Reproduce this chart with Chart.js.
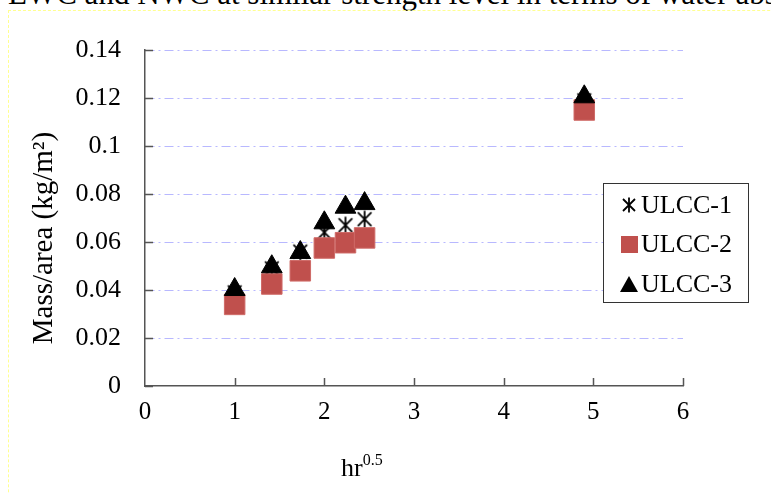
<!DOCTYPE html>
<html>
<head>
<meta charset="utf-8">
<script src="https://cdn.jsdelivr.net/npm/chart.js@4.4.0/dist/chart.umd.min.js"></script>
<style>
  body { margin: 0; background: #fff; overflow: hidden; }
  #wrap { position: relative; width: 771px; height: 494px; overflow: hidden; }
  #caption {
    position: absolute; left: 8px; top: -21px; white-space: nowrap;
    font-family: "Liberation Serif", serif; font-size: 31px; line-height: 30px; color: #000;
  }
  #frame {
    position: absolute; left: 8px; top: 10px; width: 900px; height: 700px;
    border: 1px dashed #ffff90;
  }
  canvas { position: absolute; left: 0; top: 0; }
</style>
</head>
<body>
<div id="wrap">
  <div id="caption">EWC and NWC at similar strength level in terms of water absorption</div>
  <div id="frame"></div>
  <canvas id="chart" width="771" height="494"></canvas>
</div>
<script>
// hr^0.5 values (sqrt of 1,2,3,4,5,6,24 hours)
const xValues = [1, 1.414, 1.732, 2, 2.236, 2.449, 4.899];
const ulcc1 = [0.039, 0.049, 0.056, 0.064, 0.067, 0.0695, 0.119];
const ulcc2 = [0.034, 0.0425, 0.048, 0.0575, 0.0597, 0.0617, 0.115];
const ulcc3 = [0.0402, 0.0497, 0.0556, 0.068, 0.0745, 0.076, 0.1205];
const seriesNames = ["ULCC-1", "ULCC-2", "ULCC-3"];
const yTicks = [0, 0.02, 0.04, 0.06, 0.08, 0.1, 0.12, 0.14];
const xTicks = [0, 1, 2, 3, 4, 5, 6];

const serif = "Liberation Serif";
const squareColor = "#c0504d";

// asterisk marker like the spreadsheet one: X with a vertical bar
function makeAsterisk(size) {
  const c = document.createElement("canvas");
  c.width = size; c.height = size;
  const g = c.getContext("2d");
  const m = size / 2, r = size / 2 - 1.5;
  g.strokeStyle = "#000";
  g.lineWidth = 1.8;
  g.beginPath();
  g.moveTo(m - r * 0.8, m - r * 0.8); g.lineTo(m + r * 0.8, m + r * 0.8);
  g.moveTo(m + r * 0.8, m - r * 0.8); g.lineTo(m - r * 0.8, m + r * 0.8);
  g.moveTo(m, m - r); g.lineTo(m, m + r);
  g.stroke();
  return c;
}
const asterisk = makeAsterisk(20);
const asteriskSmall = makeAsterisk(18);

function toPoints(ys) {
  return xValues.map((x, i) => ({ x: x, y: ys[i] }));
}

// inside tick marks, titles and the boxed legend
const extras = {
  id: "extras",
  afterDraw(chart) {
    const ctx = chart.ctx;
    const xs = chart.scales.x, ys = chart.scales.y;
    const area = chart.chartArea;
    ctx.save();
    ctx.strokeStyle = "#555";
    ctx.lineWidth = 1.5;
    ctx.beginPath();
    yTicks.forEach(v => {
      const py = Math.round(ys.getPixelForValue(v)) + 0.5;
      ctx.moveTo(area.left, py); ctx.lineTo(area.left + 8, py);
    });
    xTicks.forEach(v => {
      if (v === 0) return;
      const px = Math.round(xs.getPixelForValue(v)) + 0.5;
      ctx.moveTo(px, area.bottom); ctx.lineTo(px, area.bottom - 8);
    });
    ctx.stroke();

    // x title with superscript
    ctx.fillStyle = "#000";
    ctx.textBaseline = "alphabetic";
    ctx.textAlign = "left";
    ctx.font = "26px " + serif;
    ctx.fillText("hr", 341, 476);
    const hw = ctx.measureText("hr").width;
    ctx.font = "16px " + serif;
    ctx.fillText("0.5", 341 + hw, 465);

    // y title
    ctx.save();
    ctx.translate(52, 238);
    ctx.rotate(-Math.PI / 2);
    ctx.textAlign = "center";
    ctx.font = "29px " + serif;
    ctx.fillText("Mass/area (kg/m\u00b2)", 0, 0);
    ctx.restore();

    // legend box
    const bx = 603, by = 183, bw = 145, bh = 119;
    ctx.fillStyle = "#fff";
    ctx.fillRect(bx, by, bw, bh);
    ctx.strokeStyle = "#333";
    ctx.lineWidth = 1;
    ctx.strokeRect(bx + 0.5, by + 0.5, bw, bh);
    const rowsY = [205, 244, 284];
    chart.data.datasets.forEach((ds, i) => {
      const cy = rowsY[i], cx = 629;
      if (i === 0) {
        ctx.drawImage(asteriskSmall, cx - 9, cy - 9);
      } else if (i === 1) {
        ctx.fillStyle = squareColor;
        ctx.fillRect(cx - 8, cy - 8, 17, 17);
      } else {
        ctx.fillStyle = "#000";
        ctx.beginPath();
        ctx.moveTo(cx, cy - 8); ctx.lineTo(cx + 9, cy + 8); ctx.lineTo(cx - 9, cy + 8);
        ctx.closePath(); ctx.fill();
      }
      ctx.fillStyle = "#000";
      ctx.font = "26px " + serif;
      ctx.textAlign = "left";
      ctx.textBaseline = "middle";
      ctx.fillText(ds.label, 641, cy + 1);
    });
    ctx.restore();
  }
};

new Chart(document.getElementById("chart"), {
  type: "scatter",
  data: {
    datasets: [
      {
        label: seriesNames[0], data: toPoints(ulcc1),
        pointStyle: asterisk, pointRadius: 10, order: 3
      },
      {
        label: seriesNames[1], data: toPoints(ulcc2),
        pointStyle: "rect", pointRadius: 14.5,
        backgroundColor: squareColor, borderColor: "#cf6a67", borderWidth: 1, order: 2
      },
      {
        label: seriesNames[2], data: toPoints(ulcc3),
        pointStyle: "triangle", pointRadius: 12,
        backgroundColor: "#000", borderColor: "#000", borderWidth: 1, order: 1
      }
    ]
  },
  options: {
    responsive: false,
    animation: false,
    layout: { padding: { top: 50, right: 88, left: 0, bottom: 0 } },
    plugins: { legend: { display: false }, tooltip: { enabled: false } },
    scales: {
      x: {
        type: "linear", min: 0, max: 6,
        afterFit: (s) => { s.height = 108; },
        afterBuildTicks: (s) => { s.ticks = xTicks.map(v => ({ value: v })); },
        grid: { display: false, drawTicks: false },
        border: { color: "#555", width: 1.5 },
        ticks: { color: "#000", padding: 11, font: { family: serif, size: 25 } }
      },
      y: {
        type: "linear", min: 0, max: 0.14,
        afterFit: (s) => { s.width = 145; },
        afterBuildTicks: (s) => { s.ticks = yTicks.map(v => ({ value: v })); },
        grid: {
          drawTicks: false, lineWidth: 1,
          color: (c) => c.tick && c.tick.value === 0 ? "rgba(0,0,0,0)" : "#b8b8ff"
        },
        border: { color: "#555", width: 1.5, dash: [9, 4, 2, 4] },
        ticks: {
          color: "#000", padding: 24, font: { family: serif, size: 26 },
          callback: (v) => String(Number(v.toFixed(2)))
        }
      }
    }
  },
  plugins: [extras]
});
</script>
</body>
</html>
